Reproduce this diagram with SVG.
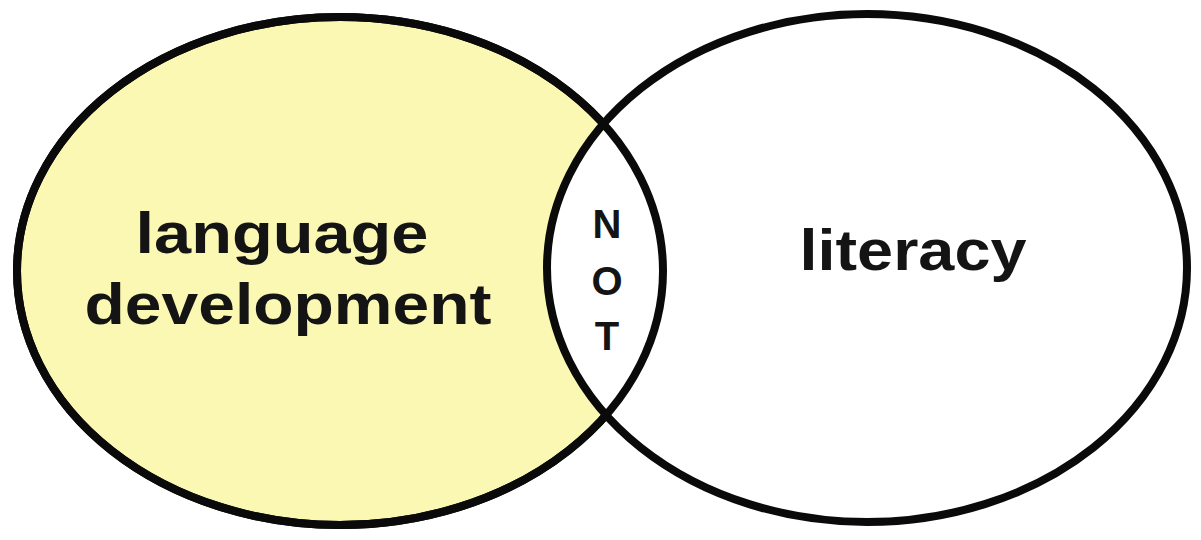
<svg xmlns="http://www.w3.org/2000/svg" width="1201" height="540" viewBox="0 0 1201 540">
  <style>
    .ring { stroke: #0a0a0a; stroke-width: 8; }
    .label { font-family: "Liberation Sans", Arial, sans-serif; font-weight: bold; fill: #141414; }
    .big { font-size: 57px; }
    .small { font-size: 40px; }
  </style>
  <rect width="1201" height="540" fill="#ffffff"/>

  <!-- left set: filled yellow -->
  <g id="language-development">
    <ellipse class="ring" cx="340" cy="271" rx="323" ry="254" fill="#faf8b2"/>
  </g>

  <!-- right set: white fill, drawn over the left one so the overlap reads white -->
  <g id="literacy">
    <ellipse class="ring" cx="867" cy="268" rx="320" ry="254" fill="#ffffff"/>
    <!-- redraw the left outline through the overlap -->
    <ellipse class="ring" cx="340" cy="271" rx="323" ry="254" fill="none"/>
  </g>

  <g id="labels">
    <text class="label big" x="282" y="253" text-anchor="middle" textLength="293" lengthAdjust="spacingAndGlyphs">language</text>
    <text class="label big" x="288" y="324" text-anchor="middle" textLength="407" lengthAdjust="spacingAndGlyphs">development</text>
    <text class="label big" x="913" y="270" text-anchor="middle" textLength="227" lengthAdjust="spacingAndGlyphs">literacy</text>
  </g>

  <g id="overlap">
    <text class="label small" x="607" y="238" text-anchor="middle">N</text>
    <text class="label small" x="607" y="295" text-anchor="middle">O</text>
    <text class="label small" x="607" y="350" text-anchor="middle">T</text>
  </g>
</svg>
